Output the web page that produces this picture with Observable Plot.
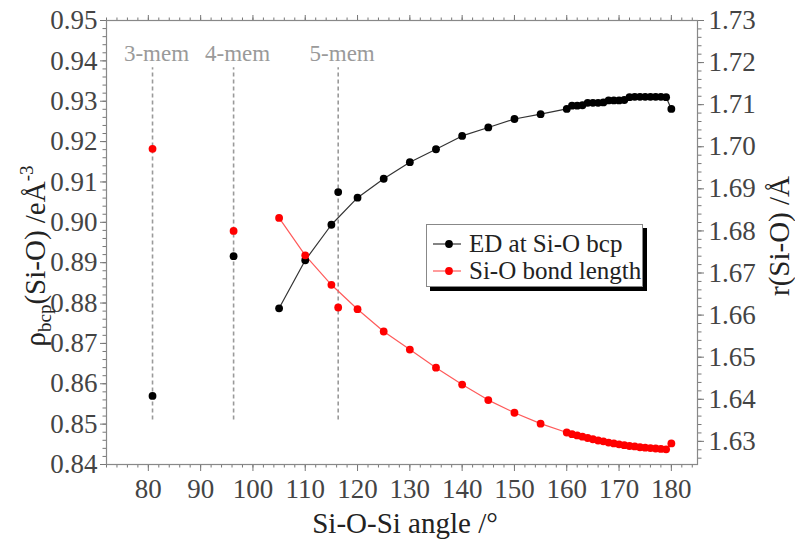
<!DOCTYPE html>
<html>
<head>
<meta charset="utf-8">
<script src="https://cdn.jsdelivr.net/npm/d3@7"></script>
<script src="https://cdn.jsdelivr.net/npm/@observablehq/plot@0.6"></script>
<style>
  body { margin: 0; background: #fff; }
  #wrap { position: relative; width: 795px; height: 539px; font-family: "Liberation Serif", "Times New Roman", serif; }
  #legend { position: absolute; left: 426px; top: 224px; width: 217px; height: 63px; border: 1px solid #888; background: #fff; box-shadow: 4px 4px 0 #000; box-sizing: border-box; }
  .row { position: absolute; left: 5px; height: 26px; display: flex; align-items: center; font-size: 25px; color: #222; white-space: nowrap; }
  .row svg { margin-right: 7px; }
  svg text { font-family: "Liberation Serif", "Times New Roman", serif; }
</style>
</head>
<body>
<div id="wrap"></div>
<script>
// ---- data ----
const angles = [105, 110, 115, 120, 125, 130, 135, 140, 145, 150, 155,
  160, 161, 162, 163, 164, 165, 166, 167, 168, 169, 170,
  171, 172, 173, 174, 175, 176, 177, 178, 179, 180];
const edValues = [0.8787, 0.8906, 0.8994, 0.9061, 0.9108, 0.9149, 0.9181, 0.9214, 0.9235, 0.9256, 0.9268,
  0.9281, 0.9289, 0.9289, 0.9290, 0.9296, 0.9296, 0.9296, 0.9297, 0.9302, 0.9302, 0.9302,
  0.9303, 0.9310, 0.9311, 0.9311, 0.9311, 0.9311, 0.9311, 0.9311, 0.9310, 0.9281];
const bondLengths = [1.6831, 1.6742, 1.6672, 1.6614, 1.6561, 1.6518, 1.6475, 1.6435, 1.6398, 1.6368, 1.6342,
  1.6321, 1.6317, 1.6314, 1.6311, 1.6308, 1.6305, 1.6302, 1.6300, 1.6297, 1.6295, 1.6293,
  1.6291, 1.6289, 1.6288, 1.6286, 1.6285, 1.6284, 1.6283, 1.6282, 1.6281, 1.6295];
const ringLabels = ["3-mem", "4-mem", "5-mem"];
const ringAngles = [80.8, 96.3, 116.3];
const ringED = [0.8570, 0.8916, 0.9075];
const ringBond = [1.6995, 1.6800, 1.6618];
const xTicks = [80, 90, 100, 110, 120, 130, 140, 150, 160, 170, 180];
const leftTicks = [0.84, 0.85, 0.86, 0.87, 0.88, 0.89, 0.90, 0.91, 0.92, 0.93, 0.94, 0.95];
const rightTicks = [1.63, 1.64, 1.65, 1.66, 1.67, 1.68, 1.69, 1.70, 1.71, 1.72, 1.73];
const seriesNames = ["ED at Si-O bcp", "Si-O bond length"];

// ---- scales ----
const xDomain = [72, 185];
const leftDomain = [0.84, 0.95];
const rightDomain = [1.6245, 1.73];
const toLeft = r => leftDomain[0] + (r - rightDomain[0]) * (leftDomain[1] - leftDomain[0]) / (rightDomain[1] - rightDomain[0]);
const toRight = v => rightDomain[0] + (v - leftDomain[0]) * (rightDomain[1] - rightDomain[0]) / (leftDomain[1] - leftDomain[0]);

const main = angles.map((a, i) => ({angle: a, ed: edValues[i], r: toLeft(bondLengths[i])}));
const rings = ringLabels.map((l, i) => ({label: l, angle: ringAngles[i], ed: ringED[i], r: toLeft(ringBond[i])}));

const minorX = d3.range(72, 186, 2);
const minorLeft = d3.range(0, 56).map(i => 0.84 + i * 0.002);
const minorRight = d3.range(0, 53).map(i => toLeft(1.626 + i * 0.002));

const font = "Liberation Serif, Times New Roman, serif";
const axisStroke = "#777";
const textCol = "#444";
const dashTop = 0.9383, dashBottom = 0.851, labelY = 0.9418;

const chart = Plot.plot({
  width: 795, height: 539,
  marginLeft: 106, marginRight: 98, marginTop: 20, marginBottom: 75,
  x: {domain: xDomain, label: null},
  y: {domain: leftDomain, label: null},
  style: {fontFamily: font, background: "#fff", overflow: "visible"},
  marks: [
    Plot.axisX({ticks: minorX, tickSize: 3.5, tickFormat: () => "", stroke: axisStroke, label: null}),
    Plot.axisX({ticks: xTicks, tickSize: 7, tickPadding: 7, tickFormat: d => String(d), fontSize: 27, fill: textCol, stroke: axisStroke, label: null}),
    Plot.axisX({anchor: "top", ticks: minorX, tickSize: 3.5, tickFormat: () => "", stroke: axisStroke, label: null}),
    Plot.axisX({anchor: "top", ticks: xTicks, tickSize: 6, tickFormat: () => "", stroke: axisStroke, label: null}),
    Plot.axisY({ticks: minorLeft, tickSize: 3.5, tickFormat: () => "", stroke: axisStroke, label: null}),
    Plot.axisY({ticks: leftTicks, tickSize: 6, tickPadding: 3, tickFormat: d => d.toFixed(2), fontSize: 27, fill: textCol, stroke: axisStroke, label: null}),
    Plot.axisY({anchor: "right", ticks: minorRight, tickSize: 3.5, tickFormat: () => "", stroke: axisStroke, label: null}),
    Plot.axisY({anchor: "right", ticks: rightTicks.map(toLeft), tickSize: 6, tickPadding: 5, tickFormat: d => toRight(d).toFixed(2), fontSize: 27, fill: textCol, stroke: axisStroke, label: null}),
    Plot.frame({stroke: "#888", strokeWidth: 1.2}),
    Plot.ruleX(rings, {x: "angle", y1: dashBottom, y2: dashTop, stroke: "#9a9a9a", strokeWidth: 1.6, strokeDasharray: "4,3"}),
    Plot.text(rings, {x: "angle", y: labelY, text: "label", fontSize: 23, fill: "#9a9a9a", dx: 4}),
    Plot.line(main, {x: "angle", y: "ed", stroke: "#333", strokeWidth: 1.2}),
    Plot.line(main, {x: "angle", y: "r", stroke: "#ff5a5a", strokeWidth: 1.2}),
    Plot.dot(rings, {x: "angle", y: "ed", r: 3.9, fill: "#000", stroke: "none"}),
    Plot.dot(main, {x: "angle", y: "ed", r: 3.9, fill: "#000", stroke: "none"}),
    Plot.dot(rings, {x: "angle", y: "r", r: 3.9, fill: "#ff0000", stroke: "none"}),
    Plot.dot(main, {x: "angle", y: "r", r: 3.9, fill: "#ff0000", stroke: "none"})
  ]
});

const wrap = document.getElementById("wrap");
wrap.appendChild(chart);

const svg = d3.select(chart);
const lt = svg.append("text")
  .attr("transform", "translate(45,256) rotate(-90)")
  .attr("text-anchor", "middle")
  .attr("font-size", 29)
  .attr("fill", "#222");
lt.append("tspan").text("ρ");
lt.append("tspan").attr("font-size", 19).attr("dy", 6).text("bcp");
lt.append("tspan").attr("dy", -6).text("(Si-O) /eÅ");
lt.append("tspan").attr("font-size", 19).attr("dy", -12).text("-3");

svg.append("text")
  .attr("transform", "translate(789,236) rotate(-90)")
  .attr("text-anchor", "middle")
  .attr("font-size", 29)
  .attr("fill", "#222")
  .text("r(Si-O) /Å");

svg.append("text")
  .attr("x", 405).attr("y", 533)
  .attr("text-anchor", "middle")
  .attr("font-size", 29)
  .attr("fill", "#222")
  .text("Si-O-Si angle /°");

const legend = document.createElement("div");
legend.id = "legend";
const legendColors = [["#333", "#000"], ["#ff5a5a", "#ff0000"]];
seriesNames.forEach((name, i) => {
  const row = document.createElement("div");
  row.className = "row";
  row.style.top = (6 + i * 27) + "px";
  row.innerHTML = `<svg width="30" height="12"><line x1="1" y1="6" x2="29" y2="6" stroke="${legendColors[i][0]}" stroke-width="1.2"/><circle cx="17" cy="6" r="3.9" fill="${legendColors[i][1]}"/></svg><span>${name}</span>`;
  legend.appendChild(row);
});
wrap.appendChild(legend);
</script>
</body>
</html>
